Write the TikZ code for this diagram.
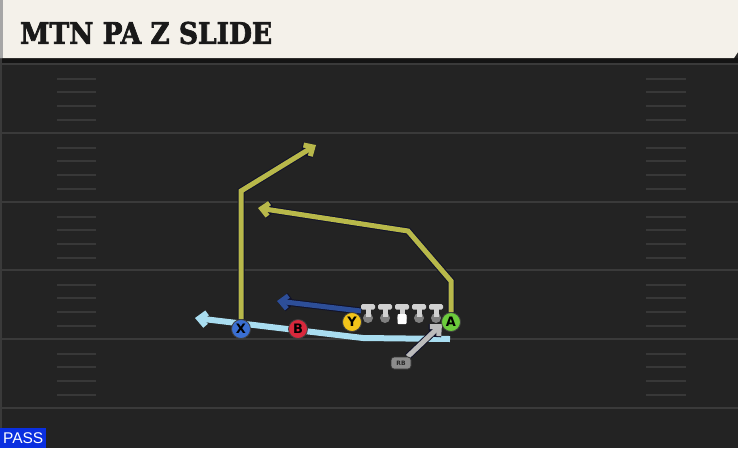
\documentclass[tikz,border=0pt]{standalone}
\usepackage{fontspec}
\setmainfont{DejaVu Sans}
\newfontfamily\titlefont[BoldFeatures={FakeBold=2.5}]{DejaVu Serif}
\newfontfamily\passfont{Liberation Sans}
\usetikzlibrary{arrows.meta}
\definecolor{fieldbg}{HTML}{232323}
\definecolor{yardline}{HTML}{3A3A3A}
\definecolor{hashc}{HTML}{383838}
\definecolor{titlebg}{HTML}{F4F1EA}
\definecolor{olive}{HTML}{B8B84A}
\definecolor{motionblue}{HTML}{A9DDF0}
\definecolor{darkblue}{HTML}{2D4E98}
\definecolor{rbgray}{HTML}{BBBBBB}
\definecolor{xblue}{HTML}{3A6FD2}
\definecolor{bred}{HTML}{D8283C}
\definecolor{yyellow}{HTML}{F2C41A}
\definecolor{agreen}{HTML}{6CCB3C}
\definecolor{passblue}{HTML}{0A2FE0}
\definecolor{outline}{HTML}{10122A}
\pgfdeclarelayer{field}
\pgfdeclarelayer{routes}
\pgfsetlayers{field,routes,main}
\tikzset{
  tip/.style={-{Straight Barb[length=7pt,width=13pt]}},
  route/.style={tip, line width=5pt, draw=#1, line join=miter,
    preaction={draw=outline, line width=7pt, tip}},
  motion/.style={tip, line width=6pt, draw=motionblue, line join=round},
  player/.style={circle, minimum size=19pt, inner sep=0pt, fill=#1,
    draw=black!75, line width=0.8pt, text=black,
    font=\bfseries\fontsize{13}{13}\selectfont},
  yard/.style={draw=yardline, line width=2pt},
  hash/.style={draw=hashc, line width=1.5pt},
  rbbox/.style={rounded corners=3pt, fill=black!45, draw=black!80,
    line width=0.8pt, minimum width=20pt, minimum height=12pt, inner sep=0pt,
    font=\bfseries\fontsize{6}{6}\selectfont, text=black!85},
  lbar/.style={fill=black!18},
}
\begin{document}
\begin{tikzpicture}[x=1pt,y=-1pt]
\useasboundingbox (0,0) rectangle (738,448);
\begin{pgfonlayer}{field}
\fill[fieldbg] (0,0) rectangle (738,448);
\fill[black!92] (0,58) rectangle (738,64);
\foreach \y in {64,133,202,270,339,408} {
  \draw[yard] (0,\y) -- (738,\y);
}
\fill[yardline] (0,58) rectangle (2,448);
\foreach \y in {64,133,202,270,339} {
  \foreach \d in {15,28,42,56} {
    \draw[hash] (57,\y+\d) -- (96,\y+\d);
    \draw[hash] (646,\y+\d) -- (686,\y+\d);
  }
}
% title band
\fill[titlebg] (0,0) -- (738,0) -- (738,52) -- (734,58) -- (0,58) -- cycle;
\fill[black!35] (0,0) rectangle (3,58);
\node[anchor=west, inner sep=0pt, text=black!90] (title) at (20,33)
  {\resizebox{252pt}{22pt}{\titlefont\bfseries MTN PA Z SLIDE}};
% PASS label
\node[anchor=south west, fill=passblue, text=white, minimum width=46pt,
  minimum height=20pt, inner sep=0pt, font=\passfont\fontsize{15.5}{15.5}\selectfont]
  (pass) at (0,448) {PASS};
\end{pgfonlayer}

% players
\node[player=xblue] (X) at (241,329) {X};
\node[player=bred] (B) at (298,329) {B};
\node[player=yyellow] (Y) at (352,322) {Y};
\node[player=agreen] (A) at (451,322) {A};
\node[rbbox] (RB) at (401,363) {RB};

% linemen
\foreach \x/\n in {368/1,385/2,402/3,419/4,436/5} {
  \fill[black!50] (\x,318) circle (5pt);
  \fill[lbar] (\x-2.5,308) rectangle (\x+2.5,317);
  \fill[lbar, rounded corners=1.5pt] (\x-7,304) rectangle (\x+7,309.5);
  \coordinate (OL\n) at (\x,312);
}
\fill[white, rounded corners=1pt] (397.5,314) rectangle (406.5,324);

\coordinate (x1) at (241,191);
\coordinate (x2) at (316,145);
\coordinate (a1) at (451,281);
\coordinate (a2) at (408,231);
\coordinate (a3) at (258,208);
\coordinate (y1) at (277,301);
\coordinate (m0) at (450,339);
\coordinate (m1) at (363,338);
\coordinate (m2) at (195,318);
\coordinate (rb1) at (442,324);

\begin{pgfonlayer}{routes}
\draw[motion] (m0) -- (m1) -- (m2);
\draw[route=olive] (X.north) -- (x1) -- (x2);
\draw[route=olive] (A.north) -- (a1) -- (a2) -- (a3);
\draw[route=darkblue] (Y.north east) ++(2,-4) -- (y1);
\draw[route=rbgray] (RB) -- (rb1);
\end{pgfonlayer}
\end{tikzpicture}
\end{document}
